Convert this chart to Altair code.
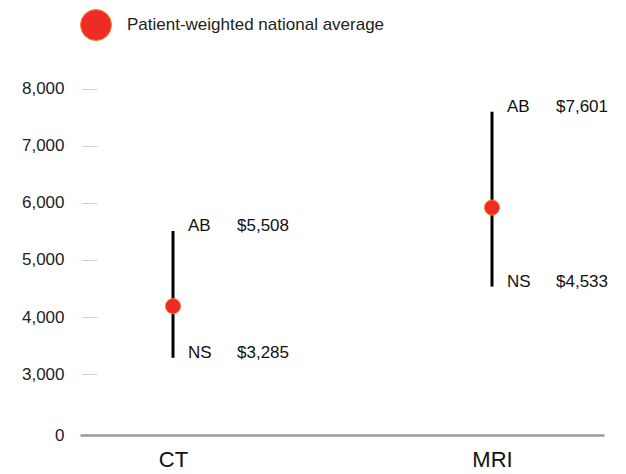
import altair as alt
import pandas as pd

# Cost ranges across provinces, by imaging modality
modality = ["CT", "MRI"]
low_province = ["NS", "NS"]
low_cost = [3285, 4533]
high_province = ["AB", "AB"]
high_cost = [5508, 7601]
national_avg = [4190, 5920]
series_name = "Patient-weighted national average"

# axis: broken scale, bottom tick shown as 0
y_floor = 1930
y_top = 8333
y_ticks = [y_floor, 3000, 4000, 5000, 6000, 7000, 8000]

FONT = "Liberation Sans"
RED = "#EE2B24"

ranges = pd.DataFrame({
    "modality": modality,
    "low": low_cost,
    "high": high_cost,
})
avg = pd.DataFrame({
    "modality": modality,
    "avg": national_avg,
    "series": [series_name] * len(modality),
})
labels = pd.DataFrame({
    "modality": modality * 2,
    "province": high_province + low_province,
    "value": high_cost + low_cost,
})
labels["money"] = labels["value"].map(lambda v: f"${v:,}")

x_enc = alt.X(
    "modality:N",
    sort=modality,
    scale=alt.Scale(type="point", padding=0.3213, align=0.4537),
    axis=alt.Axis(
        title=None,
        labelAngle=0,
        ticks=False,
        domainColor="#9a9a9a",
        domainWidth=2.5,
        labelFontSize=22,
        labelColor="#111",
        labelPadding=14,
        labelFont=FONT,
        grid=False,
    ),
)
y_scale = alt.Scale(domain=[y_floor, y_top], nice=False, zero=False)

rules = alt.Chart(ranges).mark_rule(color="black", strokeWidth=3).encode(
    x=x_enc,
    y=alt.Y(
        "low:Q",
        scale=y_scale,
        axis=alt.Axis(
            title=None,
            values=y_ticks,
            labelExpr=f"datum.value < 2500 ? '0' : format(datum.value, ',')",
            domain=False,
            grid=False,
            offset=-17,
            tickSize=15,
            tickColor="#d0d0d0",
            tickWidth=1,
            tickOpacity={"condition": {"test": "datum.value < 2500", "value": 0}, "value": 1},
            labelPadding=18,
            labelFontSize=17,
            labelColor="#222",
            labelFont=FONT,
        ),
    ),
    y2="high:Q",
)

dots = alt.Chart(avg).mark_point(
    filled=True, size=230, opacity=1, stroke="#F0832A", strokeWidth=1
).encode(
    x=alt.X("modality:N", sort=modality),
    y=alt.Y("avg:Q"),
    color=alt.Color(
        "series:N",
        scale=alt.Scale(range=[RED]),
        legend=alt.Legend(
            title=None,
            orient="none",
            legendX=0,
            legendY=-61,
            padding=0,
            symbolType="circle",
            symbolSize=960,
            symbolStrokeColor="#F0832A",
            symbolStrokeWidth=1,
            labelFontSize=17,
            labelColor="#222",
            labelFont=FONT,
            labelOffset=15,
            labelLimit=400,
        ),
    ),
)

province_text = alt.Chart(labels).mark_text(
    align="left", baseline="middle", dx=15, dy=-5, fontSize=17, font=FONT, color="#111"
).encode(
    x=alt.X("modality:N", sort=modality),
    y=alt.Y("value:Q"),
    text="province:N",
)

money_text = alt.Chart(labels).mark_text(
    align="left", baseline="middle", dx=64, dy=-5, fontSize=17, font=FONT, color="#111"
).encode(
    x=alt.X("modality:N", sort=modality),
    y=alt.Y("value:Q"),
    text="money:N",
)

chart = (
    alt.layer(rules, dots, province_text, money_text)
    .properties(
        width=524,
        height=365,
        autosize=alt.AutoSizeParams(type="none"),
        padding={"left": 80, "top": 70, "right": 22, "bottom": 39},
        background="white",
    )
    .configure_view(stroke=None)
)

chart.save("out.html", embed_options={"renderer": "svg", "actions": False})
